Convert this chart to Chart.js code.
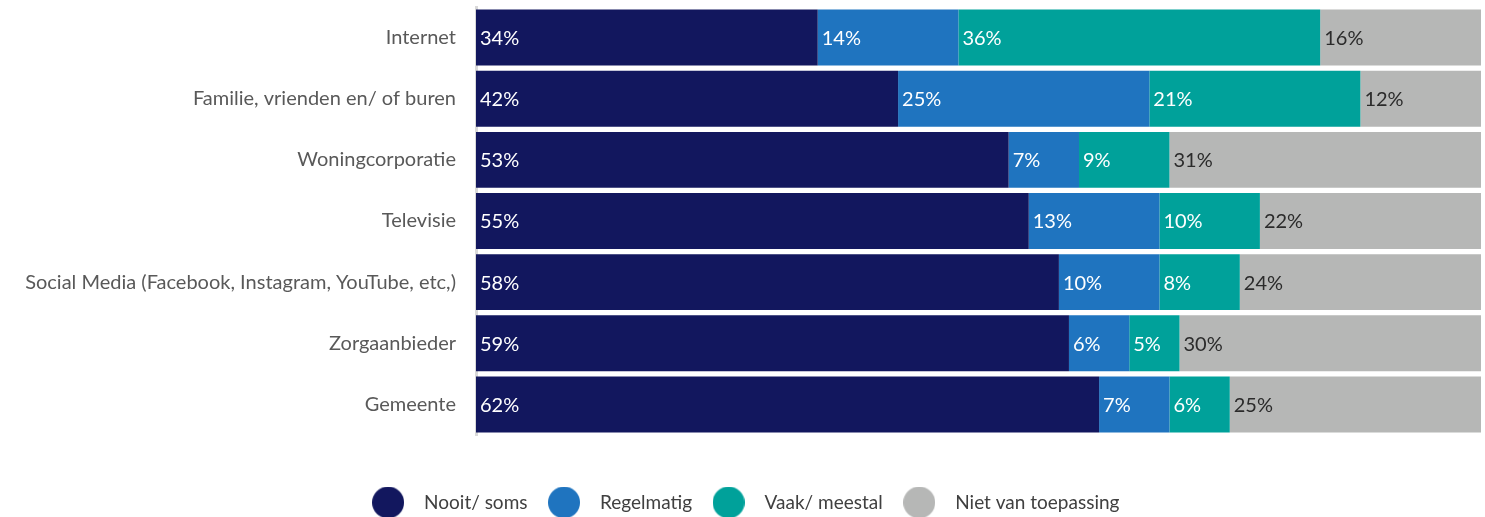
<!DOCTYPE html>
<html>
<head>
<meta charset="utf-8">
<script src="https://cdn.jsdelivr.net/npm/chart.js@4.4.1/dist/chart.umd.min.js"></script>
<style>
html, body { margin: 0; padding: 0; background: #fff; }
#wrap { width: 1485px; height: 517px; position: relative; }
</style>
</head>
<body>
<div id="wrap"><canvas id="chart-canvas"></canvas></div>
<script>
const categories = ['Internet', 'Familie, vrienden en/ of buren', 'Woningcorporatie', 'Televisie', 'Social Media (Facebook, Instagram, YouTube, etc,)', 'Zorgaanbieder', 'Gemeente'];
const seriesNames = ['Nooit/ soms', 'Regelmatig', 'Vaak/ meestal', 'Niet van toepassing'];
const nooitSoms = [34, 42, 53, 55, 58, 59, 62];
const regelmatig = [14, 25, 7, 13, 10, 6, 7];
const vaakMeestal = [36, 21, 9, 10, 8, 5, 6];
const nietVanToepassing = [16, 12, 31, 22, 24, 30, 25];
const colors = ['#12175e', '#1f74bf', '#00a19a', '#b6b7b6'];
const labelColors = ['#ffffff', '#ffffff', '#ffffff', '#2b2b2b'];

const FONT = 'Lato, "Noto Sans", sans-serif';

// round markers for the legend
const dot = (hex) => { const c = document.createElement('canvas'); c.width = 32; c.height = 32; const x = c.getContext('2d'); x.fillStyle = hex; x.beginPath(); x.arc(16, 16, 16, 0, Math.PI * 2); x.fill(); return c; };
const dots = colors.map(dot);

// percentage text inside each bar segment
const barLabels = {
    id: 'barLabels',
    afterDatasetsDraw(chart) {
        const ctx = chart.ctx; ctx.save();
        ctx.font = '20px ' + FONT; ctx.textBaseline = 'middle'; ctx.textAlign = 'left';
        chart.data.datasets.forEach((ds, i) => {
            const meta = chart.getDatasetMeta(i); if (meta.hidden) return;
            ctx.fillStyle = labelColors[i];
            meta.data.forEach((el, j) => { ctx.fillText(ds.data[j] + '%', Math.min(el.base, el.x) + 4, el.y + 1); });
        });
        ctx.restore();
    }
};

const allSeries = [nooitSoms, regelmatig, vaakMeestal, nietVanToepassing];
window.theChart = new Chart(document.getElementById('chart-canvas').getContext('2d'), {
    type: 'bar',
    data: {
        labels: categories,
        datasets: allSeries.map((d, i) => ({ label: seriesNames[i], data: d, backgroundColor: colors[i], borderWidth: 0, barPercentage: 0.915, categoryPercentage: 1 }))
    },
    options: {
        indexAxis: 'y', responsive: true, maintainAspectRatio: false, animation: false,
        layout: { padding: { top: 7, right: 4, left: 0, bottom: -5 } },
        scales: {
            x: { stacked: true, min: 0, max: 100, display: true, grid: { display: false, drawTicks: false }, border: { display: false }, ticks: { display: false }, afterFit: s => { s.height = 48; } },
            y: { stacked: true,
                 grid: { display: true, drawOnChartArea: false, drawTicks: true, tickLength: 20, color: 'rgba(0,0,0,0)' },
                 border: { display: true, color: '#d9d9d9', width: 3 },
                 ticks: { color: '#595959', padding: 0, font: { size: 20, family: FONT, lineHeight: 0.6 } }, afterFit: s => { s.width = 476; } }
        },
        plugins: {
            tooltip: { enabled: false },
            legend: { position: 'bottom', labels: { usePointStyle: true, pointStyleWidth: 53, padding: 10, color: '#404040', font: { size: 19, family: FONT },
                generateLabels: (chart) => Chart.defaults.plugins.legend.labels.generateLabels(chart).map((l, i) => Object.assign(l, { pointStyle: dots[i] })) } }
        }
    },
    plugins: [barLabels]
});
</script>
</body>
</html>
